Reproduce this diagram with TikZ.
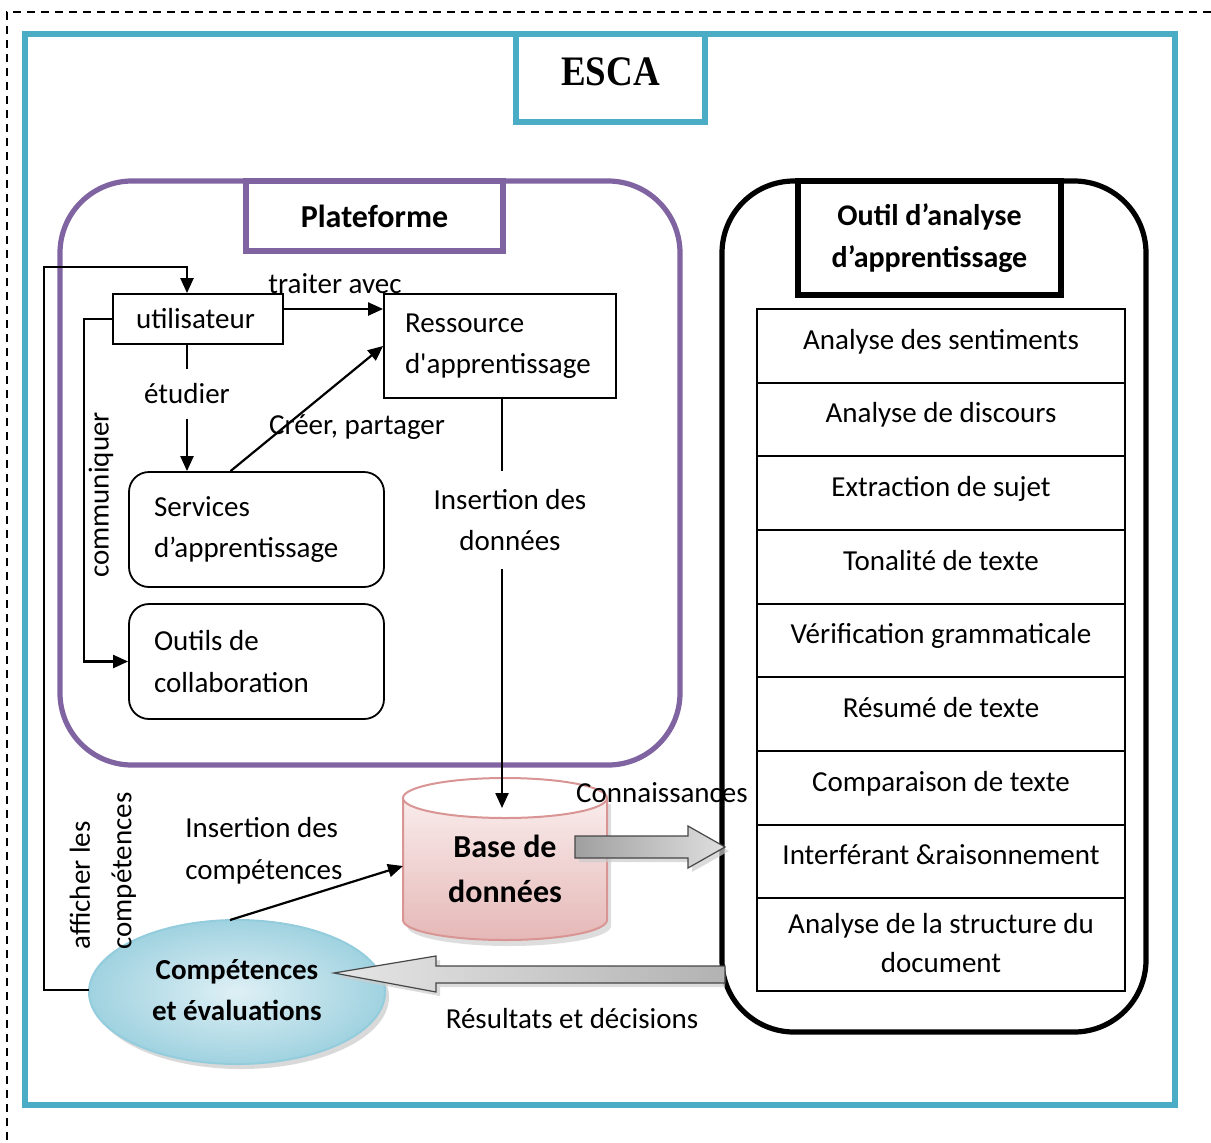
\documentclass[tikz,border=0pt]{standalone}
\usepackage{fontspec}
\setmainfont{Carlito}[Ligatures=TeXOff]
\newfontfamily\titlefont{Liberation Serif}
\usetikzlibrary{arrows.meta,calc}
\definecolor{escablue}{RGB}{75,172,198}
\definecolor{platpurple}{RGB}{128,100,162}
\definecolor{dbedge}{RGB}{217,149,148}
\definecolor{dbtopc}{RGB}{252,243,243}
\definecolor{dbbotc}{RGB}{229,184,183}
\definecolor{ellin}{RGB}{222,240,245}
\definecolor{ellout}{RGB}{160,210,224}
\definecolor{elledge}{RGB}{147,205,221}
\newcommand{\txt}{\fontsize{14.5}{20.75}\selectfont}
\newcommand{\txtb}{\fontsize{14.5}{20.75}\selectfont\bfseries}
\begin{document}
\begin{tikzpicture}[x=0.5pt,y=-0.5pt,
  thin box/.style={draw,line width=0.9pt,inner sep=0pt},
  round box/.style={draw,line width=0.9pt,rounded corners=10pt,inner sep=0pt},
  arr/.style={line width=1.1pt,-{Triangle[length=7.5pt,width=6.5pt]}},
  plain/.style={line width=1.1pt},
  lbl/.style={font=\txt,inner sep=0pt,align=center},
  listrow/.style={draw,line width=0.9pt,minimum width=184pt,inner sep=0pt,font=\txt,align=center},
  bigarrow/.style={draw=gray!55!black,line width=0.6pt}]
\useasboundingbox (0,0) rectangle (1211,1142);

% outer dashed frame (open on the right and bottom)
\draw[line width=0.9pt,dash pattern=on 4pt off 3pt] (1211,12) -- (7,12) -- (7,1142);

% ESCA frame and title
\draw[escablue,line width=2.6pt] (25,34) rectangle (1175,1105);
\node[draw=escablue,line width=2.6pt,fill=white,minimum width=94.5pt,minimum height=44pt,inner sep=0pt]
  (esca) at (610.5,78) {\raisebox{6.5pt}{\titlefont\fontsize{21}{24}\selectfont\bfseries\scalebox{0.88}[1]{ESCA}}};

% Plateforme container
\draw[platpurple,line width=2.6pt,rounded corners=36pt] (60,181) rectangle (680,765);
\node[draw=platpurple,line width=2.6pt,fill=white,minimum width=128.5pt,minimum height=35pt,inner sep=0pt,
  font=\fontsize{16}{22}\selectfont\bfseries] (plat) at (374.5,216) {Plateforme};

% Outil d'analyse container
\draw[line width=2.6pt,rounded corners=36pt] (722,181) rectangle (1146,1032);
\node[draw,line width=2.6pt,fill=white,minimum width=131.5pt,minimum height=57pt,inner sep=0pt,
  font=\fontsize{15}{20.75}\selectfont\bfseries,align=center]
  (outil) at (929.5,238) {Outil d’analyse\\d’apprentissage};

% list of analysis functions
\foreach \yc/\t [count=\i] in {346/Analyse des sentiments,419.5/Analyse de discours,493/Extraction de sujet,
  567/Tonalité de texte,640.5/Vérification grammaticale,714/Résumé de texte,788/Comparaison de texte,
  861.5/Interférant \&raisonnement}
  \node[listrow,minimum height=36.75pt,text depth=0pt] (row\i) at (941,\yc) {\raisebox{7pt}{\t}};
\node[listrow,minimum height=46.5pt] (row9) at (941,944.5) {\raisebox{1.5pt}{\shortstack{Analyse de la structure du\\[4pt]document}}};

% platform components
\node[thin box,minimum width=85pt,minimum height=25pt,font=\txt] (util) at (198,319) {\hspace*{-2.5pt}utilisateur};
\node[thin box,minimum width=116pt,minimum height=52pt,font=\txt,align=flush left,text width=95pt] (res) at (500,346)
  {Ressource\\d'apprentissage};
\node[round box,minimum width=127.5pt,minimum height=57.5pt,font=\txt,align=flush left,text width=102.5pt] (serv) at (256.5,529.5)
  {Services\\d’apprentissage};
\node[round box,minimum width=127.5pt,minimum height=57.5pt,font=\txt,align=flush left,text width=102.5pt] (collab) at (256.5,661.5)
  {Outils de\\collaboration};

% database cylinder
\fill[gray!45,opacity=0.6] (407,804) -- (407,926) arc[start angle=180,end angle=360,x radius=51pt,y radius=10pt] -- (611,804) -- cycle;
\shade[top color=dbtopc,bottom color=dbbotc] (403,798) -- (403,920) arc[start angle=180,end angle=360,x radius=51pt,y radius=10pt]
  -- (607,798) arc[start angle=0,end angle=180,x radius=51pt,y radius=10pt] -- cycle;
\draw[dbedge,line width=1pt] (403,798) -- (403,920) arc[start angle=180,end angle=360,x radius=51pt,y radius=10pt] -- (607,798);
\draw[dbedge,line width=1pt,fill=white] (505,798) ellipse[x radius=51pt,y radius=10pt];
\node[font=\fontsize{16}{22.5}\selectfont\bfseries,align=center,inner sep=0pt] (db) at (505,869) {Base de\\données};
\coordinate (dbtop) at (502,808);
\coordinate (dbleft) at (403,866);

% competences ellipse
\fill[gray!50,opacity=0.6] (241,997) ellipse[x radius=74pt,y radius=36pt];
\shade[inner color=ellin,outer color=ellout] (237,992) ellipse[x radius=74pt,y radius=36pt];
\draw[elledge,line width=1pt] (237,992) ellipse[x radius=74pt,y radius=36pt];
\node[font=\txtb,align=center,inner sep=0pt] (comp) at (237,990) {Compétences\\et évaluations};
\coordinate (compW) at (89,990);
\coordinate (compN) at (230,920);

% connectors inside the platform
\node[lbl] (traiter) at (335,284) {traiter avec};
\draw[arr] ([yshift=5pt]util.east) -- ([yshift=5pt]util.east -| res.west);
\node[lbl,inner ysep=7pt] (etud) at (187,394) {étudier};
\draw[plain] ([xshift=-5.5pt]util.south) -- (etud.north);
\draw[arr] (etud.south) -- (etud.south |- serv.north);
\node[lbl] (creer) at (357,427) {Créer, partager};
\draw[arr] ([xshift=-13pt]serv.north) -- (res.west);
\node[lbl,rotate=90] (comm) at (101,495) {communiquer};
\draw[arr] (util.west) -- ++(-14pt,0) |- (collab.west);
\node[lbl,inner ysep=9pt] (insd) at (510,520) {Insertion des\\données};
\draw[plain] (res.south -| 502,0) -- (insd.north -| 502,0);
\draw[arr] (insd.south -| 502,0) -- (dbtop);

% connectors in the lower part
\node[lbl,rotate=90,align=left,anchor=west] (aff) at (103,950) {afficher les\\compétences};
\draw[arr] (compW) -- (44,990) |- (44,267) -| ([xshift=-5.5pt]util.north);
\node[lbl,align=left,anchor=west] (insc) at (185,851) {Insertion des\\compétences};
\draw[arr] (compN) -- (dbleft);

% knowledge arrow towards the analysis tool
\fill[gray!40,opacity=0.7] (579,840) -- (692,840) -- (692,830) -- (729,851) -- (692,872) -- (692,862) -- (579,862) -- cycle;
\shade[bigarrow,left color=gray!75,right color=gray!25] (575,836) -- (688,836) -- (688,826) -- (725,847) -- (688,868) -- (688,858) -- (575,858) -- cycle;
\node[lbl] (conn) at (662,793) {Connaissances};

% results arrow back to the competences
\fill[gray!40,opacity=0.7] (725,970) -- (440,970) -- (440,960) -- (338,977) -- (440,996) -- (440,987) -- (725,987) -- cycle;
\shade[bigarrow,left color=gray!20,right color=gray!60] (725,966) -- (436,966) -- (436,956) -- (334,973) -- (436,992) -- (436,983) -- (725,983) -- cycle;
\node[lbl] (resdec) at (572,1019) {Résultats et décisions};
\end{tikzpicture}
\end{document}
